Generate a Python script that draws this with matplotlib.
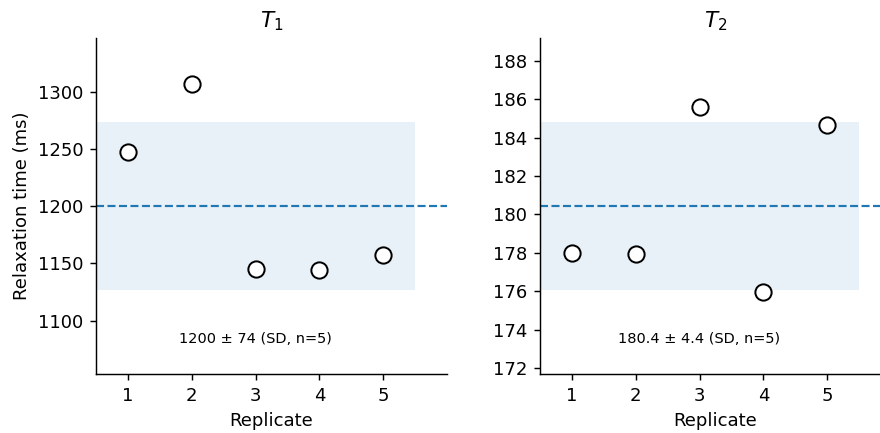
import numpy as np
import matplotlib.pyplot as plt
import matplotlib.transforms as mtransforms

# Replicate measurements of the relaxation times
replicates = [1, 2, 3, 4, 5]
t1_values = [1248, 1307, 1145.5, 1144.3, 1157]
t2_values = [178.0, 177.96, 185.59, 175.96, 184.68]

panels = [
    ("$T_1$", t1_values, "{:.0f} ± {:.0f} (SD, n={})"),
    ("$T_2$", t2_values, "{:.1f} ± {:.1f} (SD, n={})"),
]

fig = plt.figure(figsize=(880 / 130, 433 / 130), dpi=130)
axes = [
    fig.add_axes([96 / 880, 59 / 433, 351 / 880, 336 / 433]),
    fig.add_axes([540 / 880, 59 / 433, 351 / 880, 336 / 433]),
]

for ax, (title, values, fmt) in zip(axes, panels):
    vals = np.array(values)
    mean = vals.mean()
    sd = vals.std(ddof=1)

    # mean +/- SD band over the replicates, mean as dashed line
    ax.fill_between([0.5, 5.5], mean - sd, mean + sd, color="C0", alpha=0.1, lw=0)
    ax.axhline(mean, color="C0", ls="--", lw=1.2)
    ax.plot(replicates, vals, "o", ms=9, mfc="white", mec="black", mew=1.1, ls="none")

    ax.set_xlim(0.5, 6.0)
    ax.set_ylim(mean - 2 * sd, mean + 2 * sd)
    ax.set_xticks(replicates)
    ax.set_xlabel("Replicate")
    ax.set_title(title)
    ax.spines["top"].set_visible(False)
    ax.spines["right"].set_visible(False)

    trans = mtransforms.blended_transform_factory(ax.transData, ax.transAxes)
    ax.text(3, 0.105, fmt.format(mean, sd, len(vals)), transform=trans,
            ha="center", va="center", fontsize=8)

axes[0].set_ylabel("Relaxation time (ms)")

fig.savefig("out.png", dpi=130)
